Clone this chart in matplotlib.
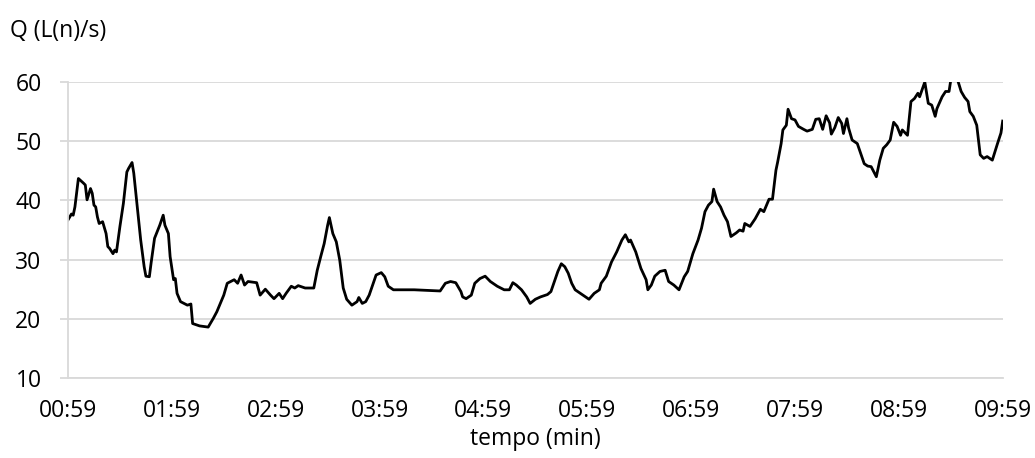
import matplotlib
matplotlib.use("Agg")
import matplotlib.pyplot as plt

# elapsed time since 00:59 (seconds)
time_s = [
    0, 2, 3, 4, 6, 9, 10, 11, 13, 14,
    15, 16, 17, 18, 20, 22, 23, 24, 26, 27,
    28, 30, 32, 34, 35, 37, 38, 40, 42, 44,
    45, 47, 48, 50, 52, 53, 55, 56, 58, 59,
    61, 62, 63, 65, 67, 69, 71, 72, 76, 81,
    84, 86, 88, 90, 92, 94, 96, 98, 100, 102,
    104, 109, 111, 114, 117, 119, 122, 124, 126, 129,
    131, 133, 137, 142, 144, 146, 148, 150, 151, 153,
    155, 157, 159, 161, 164, 167, 168, 170, 172, 174,
    176, 178, 181, 183, 185, 188, 200, 215, 218, 221,
    224, 227, 228, 230, 233, 235, 238, 241, 244, 248,
    252, 255, 257, 259, 262, 265, 267, 270, 273, 277,
    279, 281, 283, 285, 287, 289, 291, 293, 296, 299,
    301, 304, 307, 308, 311, 314, 317, 320, 322, 324,
    325, 328, 331, 334, 335, 337, 339, 342, 345, 347,
    350, 353, 356, 358, 361, 364, 366, 368, 370, 372,
    373, 375, 377, 379, 381, 383, 386, 388, 390, 391,
    394, 397, 400, 402, 405, 407, 409, 410, 412, 413,
    415, 416, 418, 420, 422, 425, 427, 430, 432, 434,
    436, 438, 440, 441, 443, 445, 447, 448, 450, 451,
    453, 456, 458, 460, 462, 464, 467, 469, 471, 473,
    475, 477, 479, 481, 482, 485, 487, 489, 491, 492,
    495, 497, 499, 501, 502, 505, 507, 509, 510, 514,
    516, 518, 520, 521, 523, 525, 527, 529, 531, 534,
    537, 539, 540,
]

# flow Q (L(n)/s)
flow = [
    36.7, 37.7, 37.5, 38.9, 43.7, 42.9, 42.6, 40.1, 42.0, 41.2,
    39.2, 38.9, 37.2, 36.1, 36.4, 34.4, 32.2, 31.9, 31.0, 31.6,
    31.3, 35.6, 39.5, 44.8, 45.4, 46.4, 44.6, 38.9, 33.3, 28.8,
    27.2, 27.1, 29.4, 33.6, 35.1, 35.8, 37.5, 35.8, 34.4, 30.5,
    26.6, 26.8, 24.3, 22.9, 22.6, 22.3, 22.5, 19.2, 18.8, 18.6,
    20.1, 21.2, 22.6, 24.0, 26.0, 26.3, 26.6, 26.0, 27.4, 25.7,
    26.3, 26.1, 24.0, 25.0, 24.0, 23.4, 24.3, 23.4, 24.3, 25.5,
    25.2, 25.6, 25.2, 25.2, 28.2, 30.5, 32.7, 35.8, 37.1, 34.4,
    33.0, 29.9, 25.2, 23.3, 22.3, 22.9, 23.6, 22.6, 22.9, 24.0,
    25.7, 27.4, 27.8, 27.1, 25.5, 24.9, 24.9, 24.7, 26.0, 26.3,
    26.1, 24.6, 23.7, 23.4, 24.0, 26.0, 26.8, 27.2, 26.3, 25.5,
    24.9, 24.9, 26.1, 25.7, 24.9, 23.7, 22.6, 23.3, 23.7, 24.1,
    24.6, 26.3, 28.0, 29.3, 28.8, 27.7, 26.0, 24.9, 24.3, 23.7,
    23.3, 24.3, 24.9, 26.0, 27.2, 29.6, 31.3, 33.3, 34.2, 33.0,
    33.3, 31.3, 28.5, 26.6, 24.9, 25.7, 27.2, 28.0, 28.2, 26.3,
    25.7, 24.9, 27.1, 28.0, 31.0, 33.3, 35.3, 38.1, 39.2, 39.8,
    41.9, 39.8, 38.9, 37.5, 36.4, 33.9, 34.5, 35.0, 34.8, 36.1,
    35.6, 36.9, 38.5, 38.1, 40.2, 40.2, 45.1, 46.5, 49.6, 51.9,
    52.7, 55.4, 53.8, 53.6, 52.5, 52.0, 51.7, 52.0, 53.7, 53.8,
    52.0, 54.3, 53.1, 51.2, 52.3, 54.0, 53.0, 51.3, 53.8, 52.2,
    50.2, 49.6, 47.9, 46.2, 45.8, 45.7, 44.0, 46.8, 48.8, 49.4,
    50.2, 53.2, 52.5, 51.0, 51.9, 51.0, 56.7, 57.2, 58.1, 57.5,
    60.0, 56.4, 56.1, 54.2, 55.5, 57.5, 58.4, 58.4, 60.3, 60.3,
    58.4, 57.4, 56.7, 55.0, 54.2, 52.7, 47.7, 47.1, 47.4, 46.8,
    49.6, 51.4, 53.4,
]

tick_pos = [0, 60, 120, 180, 240, 300, 360, 420, 480, 540]
tick_labels = ["00:59", "01:59", "02:59", "03:59", "04:59",
               "05:59", "06:59", "07:59", "08:59", "09:59"]
y_ticks = [10, 20, 30, 40, 50, 60]

plt.rcParams['font.family'] = ['Open Sans', 'DejaVu Sans']

fig = plt.figure(figsize=(10.35, 4.58), dpi=100)
ax = fig.add_axes([68 / 1035, 1 - 378 / 458, (1002.7 - 68) / 1035, (378 - 82) / 458])

ax.plot(time_s, flow, color='black', linewidth=2.0, solid_joinstyle='round')

ax.set_xlim(0, 540)
ax.set_ylim(10, 60)
ax.set_xticks(tick_pos)
ax.set_xticklabels(tick_labels)
ax.set_yticks(y_ticks)

ax.grid(axis='y', color='#d9d9d9', linewidth=1.3)
ax.set_axisbelow(True)
for s in ['top', 'right']:
    ax.spines[s].set_visible(False)
for s in ['left', 'bottom']:
    ax.spines[s].set_color('#d9d9d9')
    ax.spines[s].set_linewidth(1.3)

ax.tick_params(axis='y', length=6, width=1.3, color='#d9d9d9', pad=13,
               labelsize=16.5, labelcolor='black')
ax.tick_params(axis='x', length=0, pad=15, labelsize=16.5, labelcolor='black')

ax.set_xlabel("tempo (min)", fontsize=16.5, labelpad=3)
fig.text(10 / 1035, 1 - 31 / 458, "Q (L(n)/s)", fontsize=16.5, ha='left', va='center')

fig.savefig("out.png", dpi=100)
